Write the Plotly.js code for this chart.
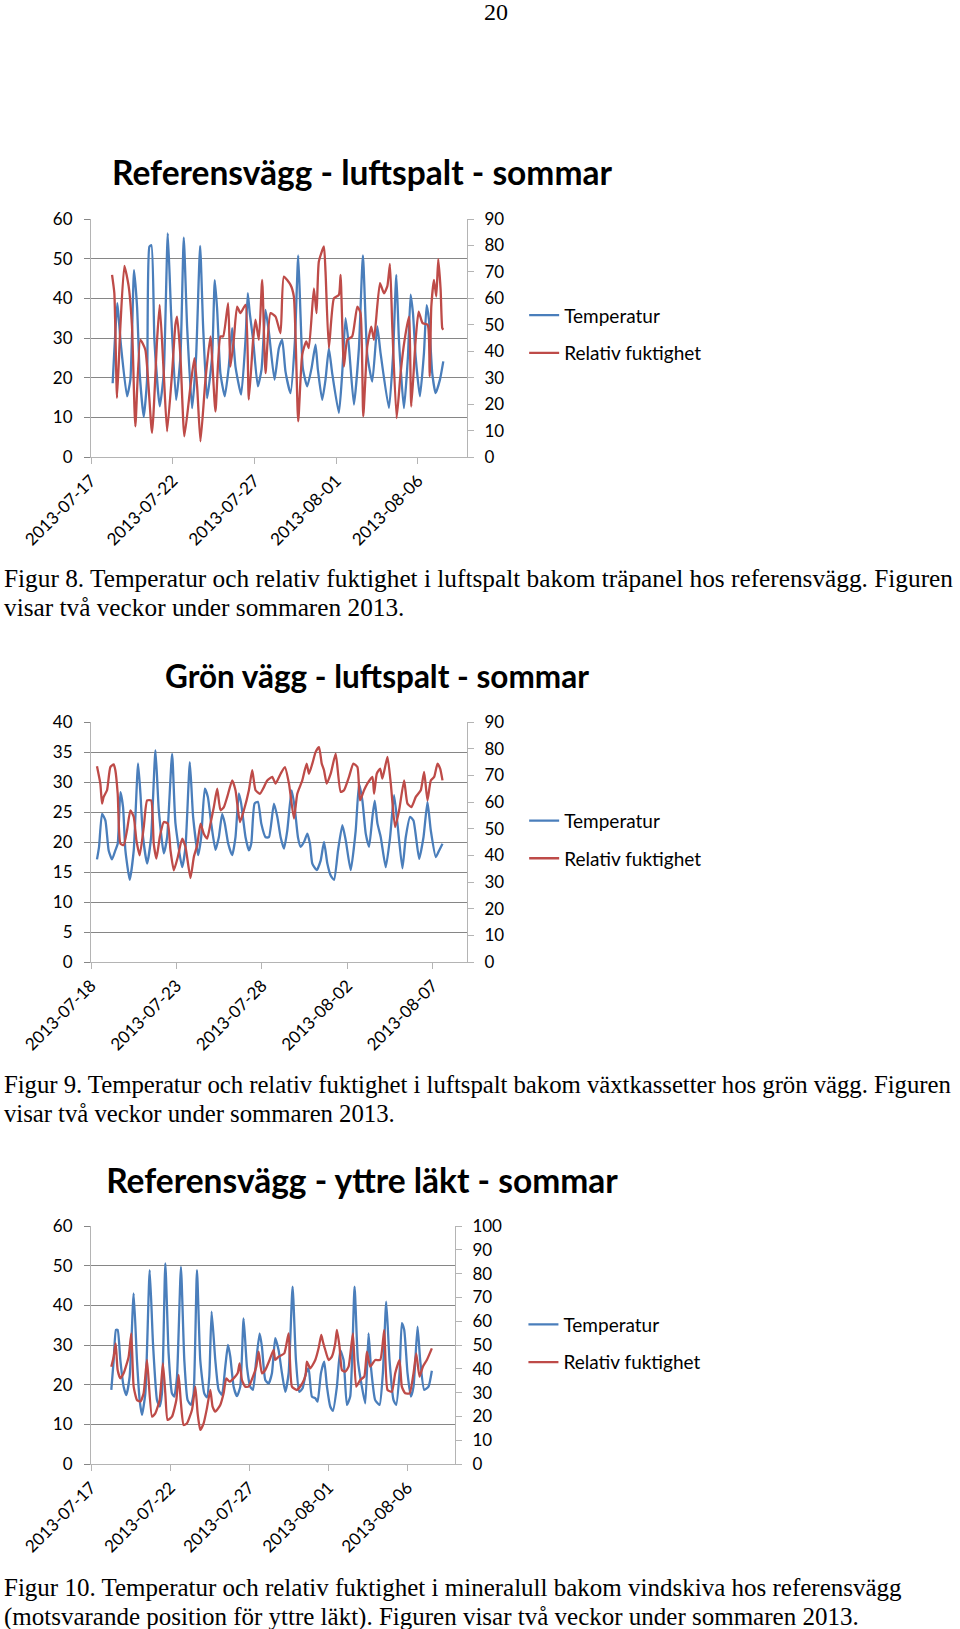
<!DOCTYPE html>
<html><head><meta charset="utf-8">
<script src="https://cdn.plot.ly/plotly-3.0.1.min.js"></script>
<style>
body{margin:0;width:960px;height:1629px;position:relative;background:#fff;overflow:hidden}
.cap{position:absolute;left:4px;font-family:"Liberation Serif","Times New Roman",serif;font-size:25.3px;line-height:29px;color:#000;white-space:nowrap}
.chart{position:absolute;left:0;width:960px}
</style></head><body>
<div class="cap" style="left:484px;top:-2px;font-size:24px">20</div>
<div id="c1" class="chart" style="top:140px;height:420px"></div>
<div class="cap" style="top:564px">Figur 8. Temperatur och relativ fuktighet i luftspalt bakom träpanel hos referensvägg. Figuren<br>visar två veckor under sommaren 2013.</div>
<div id="c2" class="chart" style="top:640px;height:420px"></div>
<div class="cap" style="top:1070px;font-size:24.8px;letter-spacing:-0.05px">Figur 9. Temperatur och relativ fuktighet i luftspalt bakom växtkassetter hos grön vägg. Figuren<br>visar två veckor under sommaren 2013.</div>
<div id="c3" class="chart" style="top:1150px;height:410px"></div>
<div class="cap" style="top:1573px;font-size:25px">Figur 10. Temperatur och relativ fuktighet i mineralull bakom vindskiva hos referensvägg<br>(motsvarande position för yttre läkt). Figuren visar två veckor under sommaren 2013.</div>
<script>
// ---------- data (hours after the base date) ----------
const seriesNames = ["Temperatur", "Relativ fuktighet"];

// Figur 8 – base 2013-07-17
const c1TempH = [31.8,38.7,41.1,44.1,52.9,57.8,63.2,67.6,71.5,77.4,82.3,85.7,88.7,93.1,100.9,106.8,112.7,117.6,124.9,131.3,136.2,141.1,148.4,154.3,160.2,164.6,170.4,177.8,181.7,185.1,190.0,196.4,202.3,207.2,212.1,220.4,226.8,230.2,233.1,238.0,244.9,250.3,256.2,261.1,269.4,275.8,280.7,285.5,292.9,299.3,304.2,307.6,311.0,317.4,323.8,329.6,333.1,339.4,344.3,349.2,354.1,363.9,368.8,373.7,378.6,386.0,393.3,399.2,405.6,412.9,420.3,425.1,437.4,443.3,448.2,452.1,459.4,465.3,469.2,472.7,476.6,482.9,488.8,492.7,496.2,501.0,505.9,512.3,517.2];
const c1TempV = [18.6,38.8,34.1,27.9,15.3,19.5,47.1,37.9,21.1,10.1,19.5,53.0,53.4,29.5,12.8,21.1,56.4,36.2,14.4,25.3,55.3,32.9,12.3,25.3,53.2,32.9,14.8,25.3,44.6,37.5,21.1,15.3,22.8,32.5,22.8,15.7,29.5,41.3,36.2,29.5,17.8,22.0,37.1,31.6,19.5,27.4,29.5,21.6,16.1,29.1,50.8,35.8,22.4,17.8,22.4,28.3,22.0,14.4,19.5,27.4,21.1,11.1,21.1,35.0,27.9,13.2,27.4,50.8,25.8,19.0,32.9,26.2,12.3,25.3,45.9,29.5,12.3,25.3,40.9,36.2,25.3,15.3,26.2,38.3,34.6,21.1,16.1,19.5,24.1];
const c1RhH = [30.9,34.3,38.2,43.1,49.0,55.3,60.2,65.1,72.5,79.8,89.6,97.0,100.9,106.8,111.7,119.0,123.9,126.4,131.3,137.1,146.0,151.8,155.8,160.7,168.0,175.3,182.7,190.0,194.0,201.3,204.7,209.6,214.5,219.4,226.8,231.7,238.0,241.5,246.4,251.3,256.2,263.5,270.9,278.2,283.1,292.9,297.8,304.2,310.0,315.9,319.8,327.2,331.1,334.5,341.9,344.3,349.2,356.6,363.9,366.4,371.3,376.2,383.5,390.9,395.7,399.7,405.6,411.5,415.4,424.2,430.1,435.0,438.9,442.3,448.7,454.5,460.4,466.8,470.2,476.6,481.0,486.8,494.2,497.2,499.6,503.5,506.9,509.8,513.3,515.7,517.2];
const c1RhV = [68.9,61.9,22.3,49.3,72.3,64.5,49.3,11.6,44.3,40.5,9.1,44.3,57.5,31.7,9.7,31.7,50.0,53.1,38.0,7.8,26.7,37.4,26.7,5.9,29.2,45.6,17.2,45.6,45.6,58.2,34.2,44.3,56.9,54.4,57.5,21.7,44.3,51.9,44.3,67.0,31.7,54.4,53.1,46.8,68.2,65.1,60.7,13.5,38.6,43.7,41.2,63.8,54.4,73.9,79.6,70.1,41.2,60.0,61.3,68.9,34.2,44.3,45.6,56.9,54.4,15.4,41.8,49.3,44.3,65.7,61.9,64.5,73.0,49.3,14.7,31.7,44.3,53.1,19.1,44.3,55.0,50.6,50.0,30.5,56.9,67.0,60.7,74.8,63.2,48.7,48.1];
const c1Ticks = ["2013-07-17","2013-07-22","2013-07-27","2013-08-01","2013-08-06"];

// Figur 9 – base 2013-07-18
const c2TempH = [8.4,11.3,15.5,20.2,24.8,29.5,34.2,37.5,41.3,45.0,48.3,54.4,60.0,66.1,69.4,73.1,78.8,84.4,90.5,95.2,102.2,106.9,113.9,118.6,128.0,132.7,138.8,143.4,150.5,154.7,159.8,164.1,168.8,174.8,179.5,184.2,187.9,192.7,198.3,202.9,207.6,210.9,217.0,221.7,225.0,229.7,234.4,239.1,245.2,249.8,256.9,261.6,266.3,271.0,275.6,281.7,286.0,290.6,294.4,299.1,303.8,307.5,310.8,316.9,322.5,327.2,331.9,336.6,341.3,346.9,353.0,357.7,364.7,371.7,376.4,381.1,385.8,390.5,395.2,398.4,402.2,406.9,413.9,420.0,425.6,430.3,437.3,442.0,448.1,452.8,460.8,466.9,472.5,477.2,484.2,488.9,493.6];
const c2TempV = [17.1,19.2,24.7,23.6,18.6,17.1,18.6,19.7,28.3,25.8,18.6,13.7,18.6,33.1,28.1,20.8,16.4,20.8,35.3,25.3,18.1,20.8,34.7,23.1,15.8,19.2,33.3,24.2,17.8,20.8,28.9,27.5,23.1,18.7,20.8,24.7,23.1,19.7,17.8,20.8,28.1,26.4,20.8,18.6,19.7,26.4,26.7,23.1,20.8,20.8,26.4,24.2,20.8,18.9,21.9,28.6,25.8,20.8,19.2,20.0,21.4,19.7,16.4,15.3,16.9,20.0,16.4,14.4,13.7,18.6,22.8,20.3,15.3,21.9,29.7,26.9,21.4,19.2,24.2,26.9,23.1,20.8,15.8,20.8,27.8,23.1,15.6,20.8,24.2,23.6,17.2,20.8,26.7,21.9,17.5,18.6,19.7];
const c2RhH = [8.4,13.1,15.5,17.8,22.5,27.2,31.9,34.2,37.5,41.3,45.9,50.6,55.3,60.0,63.8,68.4,74.1,78.8,84.4,88.1,91.9,96.6,102.2,107.8,111.6,116.3,121.9,128.0,132.7,139.7,144.4,149.1,153.8,158.4,163.1,167.8,172.5,177.2,181.9,186.6,191.3,198.3,202.9,209.1,214.7,221.7,226.4,231.1,237.2,242.8,247.5,254.5,259.2,266.3,272.3,278.0,285.0,289.7,296.7,302.8,306.1,310.8,315.5,320.2,324.0,327.2,331.0,336.6,343.6,350.6,355.3,362.3,368.4,374.1,377.8,383.4,388.1,395.2,397.5,401.3,406.0,409.2,416.3,421.0,427.0,432.7,439.7,444.4,450.0,456.1,463.1,467.8,472.5,477.2,481.9,486.6,490.3,493.6];
const c2RhV = [73.4,66.9,59.4,61.9,64.4,73.1,74.1,71.9,63.1,44.4,43.8,49.4,56.9,54.4,45.6,40.0,50.6,60.6,60.6,44.4,38.8,46.9,52.5,51.9,41.9,34.4,39.4,46.3,43.1,31.5,39.4,43.8,51.9,48.1,46.3,51.9,58.1,65.0,56.9,58.1,61.9,68.1,64.4,52.5,56.9,64.4,71.9,64.4,63.1,65.6,68.1,69.4,66.9,70.6,73.1,66.9,53.8,63.1,68.1,74.4,70.6,74.4,78.8,80.6,74.4,71.9,66.9,70.6,78.1,63.8,64.4,69.4,74.4,73.1,60.6,64.4,66.9,69.4,63.1,70.6,72.5,68.8,76.9,66.9,50.6,56.9,68.1,59.4,58.1,61.9,64.4,71.3,60.6,68.1,69.4,74.4,72.5,68.1];
const c2Ticks = ["2013-07-18","2013-07-23","2013-07-28","2013-08-02","2013-08-07"];

// Figur 10 – base 2013-07-17
const c3TempH = [30.8,34.4,37.9,40.4,44.5,49.5,53.6,58.6,64.7,69.7,73.8,77.3,82.4,89.0,94.0,100.1,104.1,107.6,112.7,117.7,122.8,126.3,130.4,136.4,141.5,146.5,151.6,155.6,160.7,165.7,171.8,175.8,179.4,182.9,188.5,193.5,198.6,203.6,207.7,211.2,216.3,221.3,226.4,231.4,236.5,241.5,245.6,250.1,255.7,259.2,264.3,269.3,274.4,279.4,284.5,289.6,294.6,299.7,305.7,310.8,315.8,320.9,325.9,330.0,335.0,340.1,343.6,348.7,353.7,357.8,362.8,366.9,372.9,378.0,383.0,388.1,393.1,399.7,404.7,410.8,415.9,420.9,424.5,431.0,437.6,442.6,447.7,452.7,458.8,462.8,467.9,471.4,475.0,480.0,485.1,489.1,495.2,499.2,505.3,511.8,516.9];
const c3TempV = [18.7,26.2,33.8,33.8,26.2,19.5,17.4,22.0,43.0,26.2,16.1,12.4,17.8,48.9,30.4,16.1,14.5,17.8,50.6,27.9,17.8,17.0,22.0,49.7,26.2,16.1,14.9,17.8,48.9,26.2,17.8,16.8,22.0,38.4,26.2,18.7,17.4,24.5,30.0,27.1,19.5,17.1,19.5,36.7,24.5,19.5,18.7,25.4,32.9,29.6,21.2,20.3,22.9,31.7,28.7,22.9,18.2,22.9,44.7,26.2,18.2,19.1,22.9,24.1,17.0,16.6,15.7,22.9,25.8,19.5,14.5,13.4,19.5,28.7,26.2,14.9,17.0,44.7,26.2,19.5,15.3,32.9,24.5,16.1,14.9,22.9,40.9,26.2,16.1,14.9,22.9,35.5,33.8,22.9,17.0,19.5,34.6,26.2,18.7,19.5,23.5];
const c3RhH = [30.8,34.4,37.4,40.4,44.5,49.5,57.1,61.1,64.7,69.7,74.8,79.8,84.9,92.5,97.5,104.1,109.1,112.7,116.2,122.8,129.4,132.9,136.4,140.5,145.5,153.1,158.2,161.7,165.7,170.8,175.8,180.9,184.4,188.5,196.0,201.1,205.2,210.2,216.3,222.3,225.4,228.9,233.9,239.0,245.6,250.6,254.2,259.2,264.3,270.8,276.9,279.4,284.5,293.1,299.7,304.7,312.3,320.4,325.4,327.4,332.5,340.1,345.1,349.2,351.7,355.3,360.3,365.3,370.4,372.9,376.9,380.5,385.5,390.6,397.2,402.2,408.3,414.4,418.4,423.4,431.0,438.6,444.7,449.7,456.3,461.3,467.9,471.4,476.5,483.1,489.1,493.2,498.2,503.3,509.3,516.9];
const c3RhV = [40.9,45.1,50.7,39.5,36.0,38.1,45.1,54.9,32.5,26.9,26.2,29.7,43.7,19.9,21.3,26.9,42.3,29.7,18.5,19.9,26.9,37.4,25.5,16.4,17.1,22.7,32.5,21.3,14.3,17.1,23.4,31.1,24.1,22.0,24.8,29.7,36.0,34.6,36.0,38.1,42.3,35.3,32.5,32.5,36.7,40.9,47.2,38.1,39.5,43.7,47.9,43.7,45.1,46.5,54.9,32.5,31.1,33.9,37.4,43.0,40.2,43.7,48.6,54.2,51.4,47.9,43.7,45.1,50.7,56.3,49.3,39.5,38.8,40.9,54.9,32.5,35.3,36.7,47.2,40.9,43.7,43.7,56.3,31.1,30.4,38.1,43.7,32.5,29.7,29.7,38.1,46.5,36.7,40.9,43.7,48.6];
const c3Ticks = ["2013-07-17","2013-07-22","2013-07-27","2013-08-01","2013-08-06"];

// ---------- helpers ----------
function toDates(base, hrs){
  const b = Date.parse(base + "T00:00:00Z");
  return hrs.map(h => new Date(b + h*3600000).toISOString().slice(0,16).replace("T"," "));
}
const FONT = "Lato, 'Open Sans', sans-serif";
const BLUE = "#4a7ebb", RED = "#be4b48", GRID = "#868686", AX = "#b4b4b4";

function draw(id, o){
  const traces = [
    {x: toDates(o.base, o.tH), y: o.tV, name: seriesNames[0], type:"scatter", mode:"lines",
     line:{color:BLUE, width:2.3, shape:"spline", smoothing:0.5}, legendgroup:"a", yaxis:"y"},
    {x: toDates(o.base, o.rH), y: o.rV, name: seriesNames[1], type:"scatter", mode:"lines",
     line:{color:RED, width:2.3, shape:"spline", smoothing:0.5}, legendgroup:"b", yaxis:"y2"}
  ];
  const tf = {family:FONT, size:17, color:"#000"};
  const layout = {
    width:960, height:o.h, margin:{l:91, r:o.r, t:o.t, b:o.h-o.t-o.ph},
    paper_bgcolor:"#fff", plot_bgcolor:"#fff", showlegend:true,
    title:{text:"<b>"+o.title+"</b>", font:{family:FONT, size:o.ts, color:"#000"},
           xref:"container", x:o.tx/960, xanchor:"center", yref:"container", y:o.ty, yanchor:"middle"},
    xaxis:{type:"date", range:o.xr, tickmode:"array", tickvals:o.ticks, ticktext:o.ticks, tickangle:-45,
           ticks:"outside", ticklen:6, tickcolor:AX, showline:true, linecolor:AX, linewidth:1,
           showgrid:false, zeroline:false, tickfont:tf, fixedrange:true},
    yaxis:{range:o.yr, dtick:o.yd, tick0:0, showgrid:true, gridcolor:GRID, gridwidth:1, showline:true,
           linecolor:AX, ticks:"outside", ticklen:6, tickcolor:GRID, zeroline:false, tickfont:tf,
           ticklabelstandoff:8, fixedrange:true},
    yaxis2:{overlaying:"y", side:"right", range:o.y2r, dtick:10, tick0:0, showgrid:false, showline:true,
           linecolor:AX, ticks:"outside", ticklen:6, tickcolor:AX, zeroline:false, tickfont:tf,
           ticklabelstandoff:7, fixedrange:true},
    legend:{x:o.lx, xanchor:"left", y:o.ly, yanchor:"top", font:{family:FONT, size:19, color:"#000"},
            traceorder:"grouped", tracegroupgap:10, bgcolor:"rgba(0,0,0,0)"}
  };
  Plotly.newPlot(id, traces, layout, {staticPlot:true, displayModeBar:false});
}

draw("c1", {base:"2013-07-17", tH:c1TempH, tV:c1TempV, rH:c1RhH, rV:c1RhV, ticks:c1Ticks,
  xr:["2013-07-17","2013-08-09"], yr:[0,60], yd:10, y2r:[0,90],
  h:420, t:79, ph:238, r:493, title:"Referensvägg - luftspalt - sommar", ts:33.5, tx:362, ty:1-(173-140)/420,
  lx:1.152, ly:0.675});
draw("c2", {base:"2013-07-18", tH:c2TempH, tV:c2TempV, rH:c2RhH, rV:c2RhV, ticks:c2Ticks,
  xr:["2013-07-18","2013-08-09"], yr:[0,40], yd:5, y2r:[0,90],
  h:420, t:82, ph:240, r:493, title:"Grön vägg - luftspalt - sommar", ts:31.5, tx:377, ty:1-(677-640)/420,
  lx:1.152, ly:0.668});
draw("c3", {base:"2013-07-17", tH:c3TempH, tV:c3TempV, rH:c3RhH, rV:c3RhV, ticks:c3Ticks,
  xr:["2013-07-17","2013-08-09"], yr:[0,60], yd:10, y2r:[0,100],
  h:410, t:76, ph:238, r:505, title:"Referensvägg - yttre läkt - sommar", ts:33.5, tx:362, ty:1-(1181-1150)/410,
  lx:1.188, ly:0.666});
</script>
</body></html>
